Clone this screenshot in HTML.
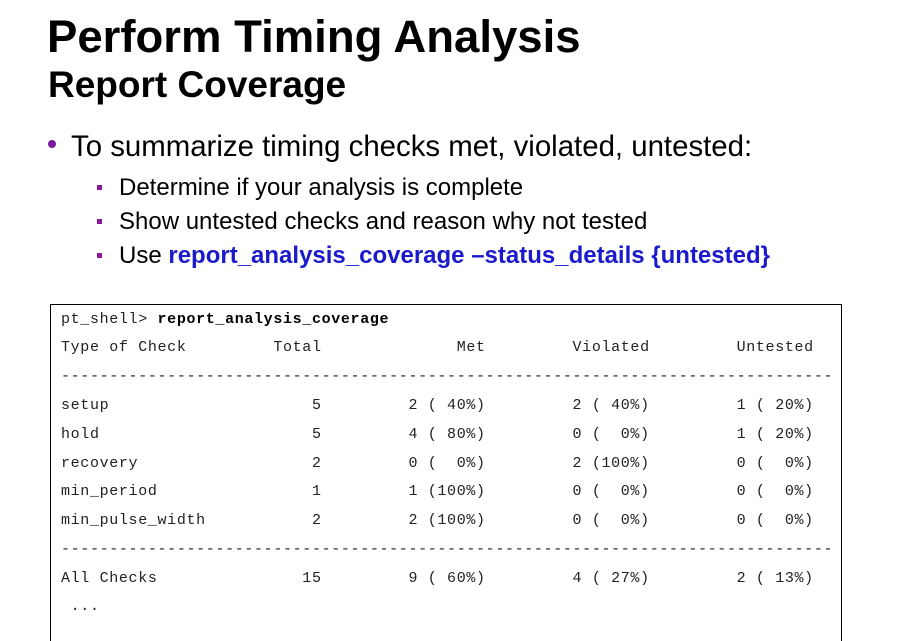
<!DOCTYPE html>
<html style="margin:0;width:902px;height:641px;overflow:hidden;"><head><meta charset="utf-8"><style>
body{margin:0;width:902px;height:641px;overflow:hidden;background:#fff;position:relative;font-family:"Liberation Sans",Arial,sans-serif;}
.t{position:absolute;white-space:nowrap;color:#000;}
#box{position:absolute;left:50px;top:304px;width:792px;height:337px;border:1.5px solid #000;border-bottom:none;box-sizing:border-box;}
.ln{position:absolute;left:61px;font-family:"Liberation Mono",monospace;font-size:15px;letter-spacing:0.65px;white-space:pre;color:#222;}
.sq{position:absolute;width:5px;height:5px;background:#8a1a9a;}
</style></head><body>
<div class="t" style="left:47px;top:11px;font-size:45.5px;font-weight:bold;">Perform Timing Analysis</div>
<div class="t" style="left:48px;top:64px;font-size:37px;font-weight:bold;">Report Coverage</div>
<div style="position:absolute;left:48px;top:140px;width:8px;height:8px;border-radius:50%;background:#7a1a9a;"></div>
<div class="t" style="left:71px;top:130px;font-size:29.4px;">To summarize timing checks met, violated, untested:</div>
<div class="sq" style="left:97px;top:185px;"></div>
<div class="t" style="left:119px;top:174px;font-size:24px;">Determine if your analysis is complete</div>
<div class="sq" style="left:97px;top:219px;"></div>
<div class="t" style="left:119px;top:208px;font-size:24px;">Show untested checks and reason why not tested</div>
<div class="sq" style="left:97px;top:253px;"></div>
<div class="t" style="left:119px;top:242px;font-size:24px;">Use <b style="color:#1a1acc">report_analysis_coverage –status_details {untested}</b></div>
<div id="box"></div>
<div class="ln" style="top:311px;">pt_shell&gt; <b style="color:#000">report_analysis_coverage</b></div>
<div class="ln" style="top:339px;">Type of Check         Total              Met         Violated         Untested</div>
<div class="ln" style="top:368px;">--------------------------------------------------------------------------------</div>
<div class="ln" style="top:397px;">setup                     5         2 ( 40%)         2 ( 40%)         1 ( 20%)</div>
<div class="ln" style="top:426px;">hold                      5         4 ( 80%)         0 (  0%)         1 ( 20%)</div>
<div class="ln" style="top:455px;">recovery                  2         0 (  0%)         2 (100%)         0 (  0%)</div>
<div class="ln" style="top:483px;">min_period                1         1 (100%)         0 (  0%)         0 (  0%)</div>
<div class="ln" style="top:512px;">min_pulse_width           2         2 (100%)         0 (  0%)         0 (  0%)</div>
<div class="ln" style="top:541px;">--------------------------------------------------------------------------------</div>
<div class="ln" style="top:570px;">All Checks               15         9 ( 60%)         4 ( 27%)         2 ( 13%)</div>
<div class="ln" style="top:598px;"> ...</div>
</body></html>
